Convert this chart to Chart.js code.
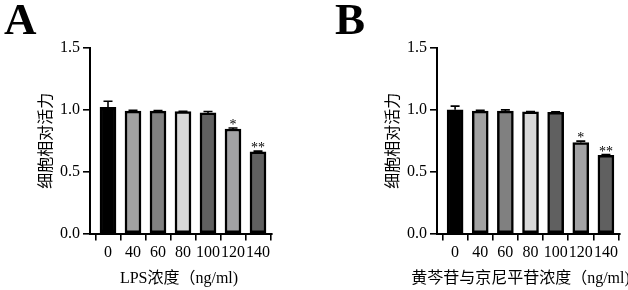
<!DOCTYPE html>
<html><head><meta charset="utf-8">
<script src="https://cdn.jsdelivr.net/npm/chart.js@4/dist/chart.umd.min.js"></script>
<style>
html,body{margin:0;padding:0;background:#fff;}
#wrap{position:relative;width:628px;height:290px;overflow:hidden;background:#fff;}
.cv{position:absolute;top:0;width:314px;height:290px;}
.letter{position:absolute;font-family:"Liberation Serif",serif;font-weight:bold;font-size:45px;line-height:45px;color:#000;}
</style></head><body>
<div id="wrap">
  <div class="cv" style="left:0px"><canvas id="cA" width="314" height="290"></canvas></div>
  <div class="cv" style="left:314px"><canvas id="cB" width="314" height="290"></canvas></div>
  <div class="letter" style="left:4px;top:-3px">A</div>
  <div class="letter" style="left:335px;top:-3px">B</div>
</div>
<script>
const categories = ['0', '40', '60', '80', '100', '120', '140'];
const valuesA = [1.02, 0.99, 0.99, 0.985, 0.975, 0.845, 0.66];
const errorsA = [0.05, 0.006, 0.005, 0.003, 0.012, 0.008, 0.006];
const valuesB = [1.0, 0.99, 0.99, 0.983, 0.98, 0.735, 0.632];
const errorsB = [0.03, 0.007, 0.01, 0.003, 0.005, 0.012, 0.006];
const marksA = ['', '', '', '', '', '*', '**'];
const marksB = ['', '', '', '', '', '*', '**'];
const barColors = ['#000000', '#a2a2a2', '#808080', '#d8d8d8', '#606060', '#a2a2a4', '#606060'];
const yTickValues = [0, 0.5, 1.0, 1.5];
const yTitle = '细胞相对活力';
const xTitleA = 'LPS浓度（ng/ml)';
const xTitleB = '黄芩苷与京尼平苷浓度（ng/ml)';

const FONT = '"Liberation Serif", "Noto Sans CJK SC", serif';

const errorPlugin = {
  id: 'errbars',
  afterDatasetsDraw(chart) {
    const o = chart.options.plugins.errbars;
    const xs = chart.scales.x, ys = chart.scales.y;
    const ctx = chart.ctx;
    ctx.save();
    ctx.strokeStyle = '#000';
    ctx.fillStyle = '#000';
    ctx.lineWidth = 1.6;
    o.values.forEach((v, i) => {
      const x = xs.getPixelForValue(i);
      const yb = ys.getPixelForValue(v);
      const yt = ys.getPixelForValue(v + o.errors[i]);
      ctx.beginPath();
      ctx.moveTo(x, yb);
      ctx.lineTo(x, yt);
      ctx.moveTo(x - 4.5, yt);
      ctx.lineTo(x + 4.5, yt);
      ctx.stroke();
      if (o.marks[i]) {
        ctx.font = '14px "Liberation Serif", serif';
        ctx.textAlign = 'center';
        ctx.textBaseline = 'alphabetic';
        ctx.fillText(o.marks[i], x, yt + 1);
      }
    });
    ctx.restore();
  },
  afterDraw(chart) {
    const o = chart.options.plugins.errbars;
    const ca = chart.chartArea;
    const ctx = chart.ctx;
    ctx.save();
    ctx.fillStyle = '#000';
    ctx.font = '16px ' + FONT;
    ctx.textAlign = 'center';
    ctx.textBaseline = 'middle';
    ctx.fillText(o.xTitle, (ca.left + ca.right) / 2 + o.xTitleShift, 279);
    ctx.restore();
  }
};

function makeChart(id, values, errors, marks, xTitle, axisLeft, yTitlePad, rightPad, shift) {
  return new Chart(document.getElementById(id), {
    type: 'bar',
    data: {
      datasets: [{
        data: values.map((v, i) => ({ x: i, y: v })),
        backgroundColor: barColors,
        borderColor: '#000',
        borderWidth: 2.5,
        borderSkipped: false,
        barThickness: 16
      }]
    },
    options: {
      responsive: false,
      animation: false,
      devicePixelRatio: 1,
      layout: { padding: { top: 48, bottom: 0, left: 0, right: rightPad } },
      plugins: {
        legend: { display: false },
        tooltip: { enabled: false },
        errbars: { values: values, errors: errors, marks: marks, xTitle: xTitle, xTitleShift: shift }
      },
      scales: {
        x: {
          type: 'linear',
          offset: false,
          min: -0.72,
          max: 6.56,
          afterFit: s => { s.height = 56.5; },
          afterBuildTicks: s => { s.ticks = categories.map((c, i) => ({ value: i })); },
          ticks: {
            autoSkip: false,
            maxRotation: 0,
            padding: 3,
            color: '#000',
            font: { family: FONT, size: 16 },
            callback: v => categories[v]
          },
          grid: { drawOnChartArea: false, drawTicks: true, tickLength: 7, color: '#000', lineWidth: 1.6 },
          border: { display: true, color: '#000', width: 2 },
          title: { display: false }
        },
        y: {
          min: 0,
          max: 1.5,
          afterFit: s => { s.width = axisLeft; },
          afterBuildTicks: s => { s.ticks = yTickValues.map(v => ({ value: v })); },
          ticks: {
            padding: 3,
            color: '#000',
            font: { family: FONT, size: 16 },
            callback: v => Number(v).toFixed(1)
          },
          grid: { drawOnChartArea: false, drawTicks: true, tickLength: 7, color: '#000', lineWidth: 1.6 },
          border: { display: true, color: '#000', width: 2 },
          title: {
            display: true,
            text: yTitle,
            color: '#000',
            font: { family: FONT, size: 16 },
            padding: { top: yTitlePad, bottom: 0 }
          }
        }
      }
    },
    plugins: [errorPlugin]
  });
}

makeChart('cA', valuesA, errorsA, marksA, xTitleA, 90, 37.5, 42, -2);
makeChart('cB', valuesB, errorsB, marksB, xTitleB, 123, 70.5, 8, -8);
</script>
</body></html>
